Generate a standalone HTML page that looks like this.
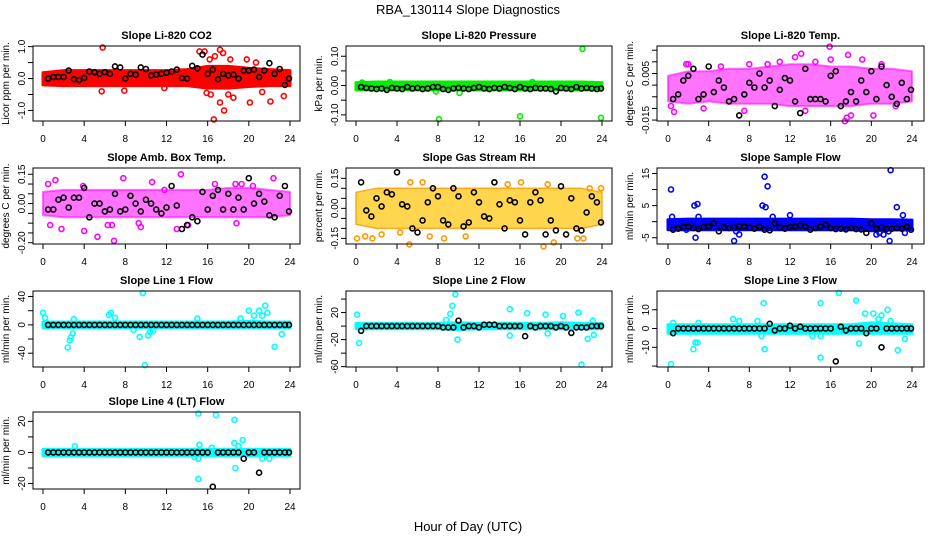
<!DOCTYPE html>
<html><head><meta charset="utf-8"><style>
html,body{margin:0;padding:0;background:#fff;}
svg{display:block;font-family:"Liberation Sans",Arial,sans-serif;}
</style></head><body>
<svg id="chart" width="936" height="540" viewBox="0 0 936 540">
<text x="468" y="14" text-anchor="middle" font-size="13">RBA_130114  Slope Diagnostics</text>
<text x="468" y="531" text-anchor="middle" font-size="13">Hour of Day (UTC)</text>
</svg>
<script>
// ---------- data ----------
const xTicks = [0,4,8,12,16,20,24];
const bandHours = [0,2,4,6,8,10,12,14,16,18,20,22,24];
const blackHours = [0.5,1,1.5,2,2.5,3,3.5,4,4.5,5,5.5,6,6.5,7,7.5,8,8.5,9,9.5,10,10.5,11,11.5,12,12.5,13,13.5,14,14.5,15,15.5,16,16.5,17,17.5,18,18.5,19,19.5,20,20.5,21,21.5,22,22.5,23,23.5,23.9];

const p1Low = [-0.2,-0.22,-0.22,-0.22,-0.22,-0.22,-0.22,-0.22,-0.3,-0.3,-0.25,-0.22,-0.22];
const p1High = [0.18,0.25,0.25,0.25,0.25,0.25,0.25,0.28,0.38,0.38,0.32,0.28,0.25];
const p1Black = [0.0,0.05,0.05,0.05,0.25,-0.02,-0.05,0.02,0.22,0.2,0.15,0.2,0.15,0.38,0.35,0.0,0.15,0.12,0.35,0.3,0.1,0.12,0.15,0.18,0.22,0.28,0.02,0.0,0.4,0.32,0.75,0.15,0.28,-0.02,0.15,0.1,0.12,0.0,0.25,0.25,0.28,0.05,0.25,0.48,0.15,0.3,-0.2,0.0];
const p1Out = [[5.8,0.97],[5.7,-0.4],[7.9,-0.38],[15.2,0.85],[15.7,0.85],[16.3,-0.5],[16.6,-1.28],[17.2,0.9],[17.5,0.8],[17.2,-0.75],[17.6,-1.0],[18.0,-0.5],[18.5,-0.6],[19.8,0.6],[20.1,-0.75],[20.7,0.5],[22.1,-0.72],[23.4,-0.55],[16.2,0.6],[16.7,0.7],[18.2,0.6],[15.9,-0.45],[11.8,-0.3],[21.3,-0.42]];

const p2Low = [-0.015,-0.015,-0.015,-0.015,-0.015,-0.015,-0.015,-0.015,-0.015,-0.015,-0.015,-0.015,-0.015];
const p2High = [0.01,0.012,0.012,0.012,0.012,0.012,0.012,0.012,0.012,0.012,0.012,0.012,0.01];
const p2Black = [-0.005,-0.008,-0.01,-0.012,-0.01,-0.015,-0.008,-0.01,-0.012,-0.005,-0.01,-0.008,-0.012,-0.01,-0.005,-0.005,-0.012,-0.015,-0.01,-0.008,-0.01,-0.012,-0.008,-0.005,-0.01,-0.012,-0.008,-0.01,-0.005,-0.008,-0.012,-0.005,-0.01,-0.012,-0.008,-0.01,-0.01,-0.012,-0.02,-0.008,-0.01,-0.012,-0.005,-0.01,-0.008,-0.01,-0.012,-0.01];
const p2Out = [[8.1,-0.115],[16,-0.105],[22.1,0.125],[23.9,-0.11],[10.1,-0.025],[7.8,-0.02],[17.2,0.012],[0.6,0.01],[3.3,0.012]];

const p3Low = [-0.007,-0.008,-0.007,-0.008,-0.008,-0.008,-0.009,-0.009,-0.009,-0.009,-0.008,-0.008,-0.007];
const p3High = [0.004,0.006,0.006,0.007,0.007,0.008,0.009,0.009,0.008,0.008,0.007,0.007,0.006];
const p3Black = [-0.006,-0.004,0.002,0.004,0.007,-0.006,-0.004,0.008,-0.003,0.002,-0.001,-0.007,-0.006,-0.013,-0.004,0.001,-0.001,0.005,-0.001,0.002,-0.009,-0.002,0.003,0.002,-0.007,-0.012,0.007,-0.006,-0.006,-0.006,-0.007,0.004,0.006,-0.009,-0.007,-0.003,-0.007,0.002,-0.003,0.006,-0.006,0.008,0.0,-0.005,-0.008,0.001,-0.006,-0.002];
const p3Out = [[15.9,0.0165],[12.5,0.012],[13.1,0.0135],[17.7,0.013],[19.1,0.011],[1.8,0.009],[0.3,-0.009],[0.6,-0.0115],[7.5,-0.011],[13.5,-0.011],[17.6,-0.014],[17.4,-0.0155],[18,-0.013],[20.2,-0.013],[2.0,0.009],[9.8,0.009],[21,0.009],[5.2,0.008],[16,0.011],[8,0.009],[11,0.01],[14.5,0.01],[3.5,-0.01],[22.4,-0.009]];

const p4Low = [-0.06,-0.07,-0.07,-0.07,-0.07,-0.07,-0.07,-0.07,-0.07,-0.07,-0.07,-0.07,-0.06];
const p4High = [0.06,0.07,0.07,0.07,0.07,0.07,0.07,0.07,0.07,0.08,0.08,0.07,0.06];
const p4Black = [-0.03,-0.03,0.02,0.03,-0.02,0.03,0.03,0.08,-0.07,0.0,0.0,-0.04,-0.03,0.05,-0.04,-0.03,0.04,0.0,-0.04,0.02,0.0,-0.03,-0.05,-0.02,0.09,-0.01,-0.13,-0.11,-0.07,-0.09,0.06,-0.03,0.04,0.07,-0.03,0.05,-0.03,0.03,-0.03,0.13,0.0,0.05,0.01,-0.06,-0.07,0.04,0.09,-0.04];
const p4Out = [[1.2,0.12],[7.8,0.13],[13.4,0.15],[22.4,0.13],[0.7,-0.11],[1.8,-0.13],[4,-0.14],[5.3,-0.17],[6.9,-0.19],[6.3,-0.11],[6.7,-0.11],[9.3,-0.1],[9.5,-0.12],[13,-0.13],[14.1,-0.11],[18.8,-0.1],[10.6,0.11],[18.7,0.1],[19.3,0.1],[11.8,0.07],[16.7,0.1],[20.4,0.09],[0.5,0.1],[3.9,0.09]];

const p5Low = [-0.08,-0.1,-0.1,-0.1,-0.1,-0.1,-0.1,-0.1,-0.1,-0.1,-0.1,-0.1,-0.08];
const p5High = [0.08,0.1,0.1,0.1,0.1,0.1,0.1,0.1,0.1,0.1,0.1,0.1,0.08];
const p5Black = [0.13,-0.01,-0.04,0.05,0.01,0.08,0.07,0.18,0.02,0.01,-0.1,-0.12,-0.06,0.03,0.1,0.06,-0.06,-0.08,0.1,0.06,-0.09,-0.07,0.08,0.03,-0.04,-0.05,0.13,0.02,-0.1,0.04,0.03,-0.06,-0.13,0.03,0.08,0.04,-0.13,-0.06,-0.11,0.11,-0.13,0.05,-0.1,-0.11,-0.02,0.06,0.03,-0.07];
const p5Out = [[0.1,-0.15],[0.9,-0.14],[1.6,-0.15],[2.5,-0.13],[4.3,-0.12],[5.2,-0.18],[5.3,0.13],[6.5,0.13],[7.2,-0.14],[8.6,-0.15],[10.7,-0.14],[13.5,0.13],[14.8,0.12],[16.1,0.13],[18.3,-0.19],[18.7,0.12],[19.3,-0.17],[21.6,-0.15],[22.2,-0.15],[22.8,0.1],[23.9,0.1]];

const p6Low = [-2.5,-2.5,-2.5,-2.5,-2.5,-2.5,-2.5,-2.5,-2.5,-2.5,-2.8,-2.6,-2.5];
const p6High = [0.6,0.8,0.8,0.8,0.8,0.8,0.8,0.8,0.8,0.8,0.6,0.6,0.5];
const p6Black = [-2.5,-2.2,-1.7,-1.5,-2,-2.3,-1.7,-1.5,-0.5,-3,-1.7,-2,-1.8,-1.5,-1.5,-1.8,-2.2,-1.5,-2.5,-2.7,-0.5,-1.8,-2.2,-1.6,-1.5,-1.2,-1.5,-2.5,-2.0,-1.5,-1.0,-2.0,-2.3,-2.2,-2.4,-2.0,-2.3,-2.4,-3.5,-0.5,-2.2,-1.8,-2.3,-2.2,-2.0,-2.2,-1.5,-2.5];
const p6Out = [[0.3,10],[2.6,5],[2.9,5.5],[3,1.5],[0.4,1.5],[0.4,-2],[2.7,-5],[6.5,-6],[6.7,-3],[7,-4],[9.3,5],[9.6,4.5],[9.5,14],[9.8,11],[10.3,1.5],[12,2],[21.9,16],[22.5,4.5],[23.1,2],[21.8,-6],[21.7,-3],[21.2,-4],[20.5,-4],[20.8,-3.5],[23.3,-3.5],[1.8,-2.5]];

const p7Low = [-4,-4,-4,-4,-4,-4,-4,-4,-4,-4,-4,-4,-4];
const p7High = [4,4,4,4,4,4,4,4,4,4,5,4,4];
const p7Black = [0,0,0,0,0,0,0,0,0,0,0,0,0,0,0,0,0,0,0,0,0,0,0,0,0,0,0,0,0,0,0,0,0,0,0,0,0,0,0,0,0,0,0,0,0,0,0,0];
const p7Out = [[0,17],[0.2,10],[2.4,-32],[2.6,-22],[2.7,-18],[2.9,-12],[3,8],[6.4,14],[6.6,17],[7,10],[9.7,45],[9.9,-57],[9.4,-17],[10.2,-15],[10.4,-10],[15,9],[19.2,9],[20,20],[20.5,13],[21,20],[21.3,13],[21.6,27],[21.8,17],[22.5,-31],[23.2,-13],[10.7,-9],[8.8,-7]];

const p8Low = [-4,-4,-4,-4,-4,-5,-4,-4,-4,-4,-4,-4,-4];
const p8High = [4,4,4,4,4,5,4,4,4,4,5,4,4];
const p8Black = [-7,0,0,0,0,0,0,0,0,0,0,0,0,0,0,0,-2,-2,-2,8,-2,0,0,-2,2,2,2,0,0,0,0,0,-15,0,-2,0,0,0,-2,0,-2,-10,-2,-2,-2,0,0,0];
const p8Out = [[0.1,17],[0.3,-25],[9.2,18],[9.4,30],[9.7,47],[9.9,-20],[8.8,9],[15,25],[15,-14],[16.7,19],[18.5,17],[18.7,-11],[20.2,15],[21.7,20],[22,-57],[22.6,-19],[23.2,-13],[23.1,8]];

const p9Low = [-2.5,-2.5,-2.5,-2.5,-2.5,-2.5,-2.5,-2.5,-2.5,-2.5,-2.5,-2.5,-2.5];
const p9High = [2,2,2,2,2,2,2,2,2,2,3,2.5,2];
const p9Black = [-2.5,0,0,0,0,0,0,0,0,0,0,0,0,0,0,0,0,0,0,2.5,-1,0,0,1.5,0,1,0,0,0,0,0,0,-17.5,1,-1,0,0,0,-2.5,0,0,-10,0,0,0,0,0,0];
const p9Out = [[0.3,-19],[0.5,3],[2.5,-11],[2.7,-7.5],[2.9,-7.5],[3,3],[6.4,5],[7,4],[8.8,4],[9.4,13.5],[9.5,-11],[9.2,-4],[15,-15.5],[15,13.5],[15,-4],[16.8,19],[18.5,15],[18.8,-8],[19.4,8],[20.2,8],[20.7,5],[21,7],[21.6,10],[21.9,4],[22.6,-11.5],[23.3,-5.5],[14.2,-4]];

const p10Low = [-2,-2,-2,-2,-2,-2,-2,-2,-2,-2,-2,-2,-2];
const p10High = [2,2,2,2,2,2,2,2,2,2,2,2,2];
const p10Black = [0,0,0,0,0,0,0,0,0,0,0,0,0,0,0,0,0,0,0,0,0,0,0,0,0,0,0,0,0,0,0,0,-22,0,0,0,0,0,-4,0,0,-13,0,0,0,0,0,0];
const p10Out = [[15.1,25],[16.8,24],[18.6,21],[15.1,-17],[18.7,-10],[19.4,8],[18.6,6],[19,4],[15.2,5],[3.1,4],[16.4,3],[21.3,-4],[22,-4],[14.7,-3],[15.1,-4]];

// ---------- layout ----------
const cols = [{l:33,r:300,x0:43,x24:290},{l:346,r:612,x0:356,x24:602},{l:657,r:924,x0:668,x24:912}];
const rows = [{t:46,b:121},{t:168,b:244},{t:291,b:367},{t:412,b:489}];
const panels = [
 {c:0,r:0,title:"Slope Li-820 CO2",yt:"Licor ppm per min.",ymax:1.02,ymin:-1.33,ticks:[-1,-0.5,0,0.5,1],labels:[[-1,"-1.0"],[0,"0.0"],[1,"1.0"]],col:"#ff0000",fill:"#ff0000",op:1,sw:3,low:p1Low,high:p1High,black:p1Black,out:p1Out},
 {c:1,r:0,title:"Slope Li-820 Pressure",yt:"kPa per min.",ymax:0.135,ymin:-0.121,ticks:[-0.1,-0.05,0,0.05,0.1],labels:[[-0.1,"-0.10"],[0,"0.00"],[0.1,"0.10"]],col:"#00ee00",fill:"#00ee00",op:1,sw:3,low:p2Low,high:p2High,black:p2Black,out:p2Out},
 {c:2,r:0,title:"Slope Li-820 Temp.",yt:"degrees C per min.",ymax:0.0168,ymin:-0.0154,ticks:[-0.015,-0.01,-0.005,0,0.005,0.01,0.015],labels:[[-0.015,"-0.015"],[0.005,"0.005"]],col:"#ff00ff",fill:"#ff00ff",op:0.55,sw:2,low:p3Low,high:p3High,black:p3Black,out:p3Out},
 {c:0,r:1,title:"Slope Amb. Box Temp.",yt:"degrees C per min.",ymax:0.182,ymin:-0.2066,ticks:[-0.2,-0.15,-0.1,-0.05,0,0.05,0.1,0.15],labels:[[-0.2,"-0.20"],[0,"0.00"],[0.15,"0.15"]],col:"#ff00ff",fill:"#ff00ff",op:0.55,sw:2,low:p4Low,high:p4High,black:p4Black,out:p4Out},
 {c:1,r:1,title:"Slope Gas Stream RH",yt:"percent per min.",ymax:0.2015,ymin:-0.178,ticks:[-0.15,-0.1,-0.05,0,0.05,0.1,0.15],labels:[[-0.15,"-0.15"],[0,"0.00"],[0.15,"0.15"]],col:"#ff9900",fill:"#ffcc22",op:0.8,sw:1.5,low:p5Low,high:p5High,black:p5Black,out:p5Out},
 {c:2,r:1,title:"Slope Sample Flow",yt:"ml/min per min.",ymax:16.7,ymin:-6.95,ticks:[-5,0,5,10,15],labels:[[-5,"-5"],[5,"5"],[15,"15"]],col:"#0000ff",fill:"#0000ff",op:1,sw:3,low:p6Low,high:p6High,black:p6Black,out:p6Out},
 {c:0,r:2,title:"Slope Line 1 Flow",yt:"ml/min per min.",ymax:47.8,ymin:-59.5,ticks:[-40,-20,0,20,40],labels:[[-40,"-40"],[0,"0"],[40,"40"]],col:"#00ffff",fill:"#00ffff",op:1,sw:3,low:p7Low,high:p7High,black:p7Black,out:p7Out},
 {c:1,r:2,title:"Slope Line 2 Flow",yt:"ml/min per min.",ymax:51.9,ymin:-60.5,ticks:[-60,-40,-20,0,20,40],labels:[[-60,"-60"],[-20,"-20"],[20,"20"]],col:"#00ffff",fill:"#00ffff",op:1,sw:3,low:p8Low,high:p8High,black:p8Black,out:p8Out},
 {c:2,r:2,title:"Slope Line 3 Flow",yt:"ml/min per min.",ymax:20,ymin:-20.5,ticks:[-20,-10,0,10],labels:[[-10,"-10"],[0,"0"],[10,"10"]],col:"#00ffff",fill:"#00ffff",op:1,sw:3,low:p9Low,high:p9High,black:p9Black,out:p9Out},
 {c:0,r:3,title:"Slope Line 4 (LT) Flow",yt:"ml/min per min.",ymax:26,ymin:-23.5,ticks:[-20,-10,0,10,20],labels:[[-20,"-20"],[0,"0"],[20,"20"]],col:"#00ffff",fill:"#00ffff",op:1,sw:3,low:p10Low,high:p10High,black:p10Black,out:p10Out}
];

const NS = "http://www.w3.org/2000/svg";
const svg = document.getElementById("chart");
function mk(tag, attrs, parent){
  const e = document.createElementNS(NS, tag);
  for (const k in attrs) e.setAttribute(k, attrs[k]);
  (parent||svg).appendChild(e);
  return e;
}

panels.forEach((p, pi) => {
  const C = cols[p.c], R = rows[p.r];
  const xs = h => C.x0 + h/24*(C.x24 - C.x0);
  const ys = v => R.t + (p.ymax - v)/(p.ymax - p.ymin)*(R.b - R.t);
  const g = mk("g", {});
  
  

  const title = mk("text", {x:(C.l+C.r)/2, y:R.t-7, "text-anchor":"middle", "font-size":"11", "font-weight":"bold"}, g);
  title.textContent = p.title;
  
  

  const yt = mk("text", {x:0, y:0, "text-anchor":"middle", "font-size":"10", transform:`translate(${C.l-24},${(R.t+R.b)/2}) rotate(-90)`}, g);
  yt.textContent = p.yt;
  
  

  let d = "";
  bandHours.forEach((h,i) => { d += (i ? "L" : "M") + xs(h).toFixed(1) + "," + ys(p.high[i]).toFixed(1); });
  for (let i = bandHours.length-1; i >= 0; i--) d += "L" + xs(bandHours[i]).toFixed(1) + "," + ys(p.low[i]).toFixed(1);
  d += "Z";
  const band = mk("path", {d:d, fill:p.fill, "fill-opacity":p.op, stroke:p.col, "stroke-width":p.sw, "stroke-linejoin":"round", "stroke-opacity":p.op}, g);
  
  

  p.out.forEach(pt => {
    const c = mk("circle", {cx:xs(pt[0]).toFixed(1), cy:ys(pt[1]).toFixed(1), r:"2.5", fill:"none", stroke:p.col, "stroke-width":"1.6"}, g);
    
    
  });

  blackHours.forEach((h,i) => {
    const c = mk("circle", {cx:xs(h).toFixed(1), cy:ys(p.black[i]).toFixed(1), r:"2.5", fill:"none", stroke:"#000", "stroke-width":"1.6"}, g);
    
    
  });

  const box = mk("rect", {x:C.l, y:R.t, width:C.r-C.l, height:R.b-R.t, fill:"none", stroke:"#000", "stroke-width":"1"}, g);
  
  

  const xa = mk("g", {}, g);
  
  
  mk("line", {x1:xs(0), x2:xs(24), y1:R.b, y2:R.b, stroke:"#000"}, xa);
  xTicks.forEach(t => {
    mk("line", {x1:xs(t), x2:xs(t), y1:R.b, y2:R.b+5, stroke:"#000"}, xa);
    const tl = mk("text", {x:xs(t), y:R.b+21, "text-anchor":"middle", "font-size":"10"}, xa);
    tl.textContent = t;
  });

  const ya = mk("g", {}, g);
  
  
  mk("line", {x1:C.l, x2:C.l, y1:ys(p.ticks[0]), y2:ys(p.ticks[p.ticks.length-1]), stroke:"#000"}, ya);
  p.ticks.forEach(t => { mk("line", {x1:C.l-5, x2:C.l, y1:ys(t), y2:ys(t), stroke:"#000"}, ya); });
  p.labels.forEach(l => {
    const tl = mk("text", {x:0, y:0, "text-anchor":"middle", "font-size":"10", transform:`translate(${C.l-8},${ys(l[0])}) rotate(-90)`}, ya);
    tl.textContent = l[1];
  });
});
</script>
</body></html>
